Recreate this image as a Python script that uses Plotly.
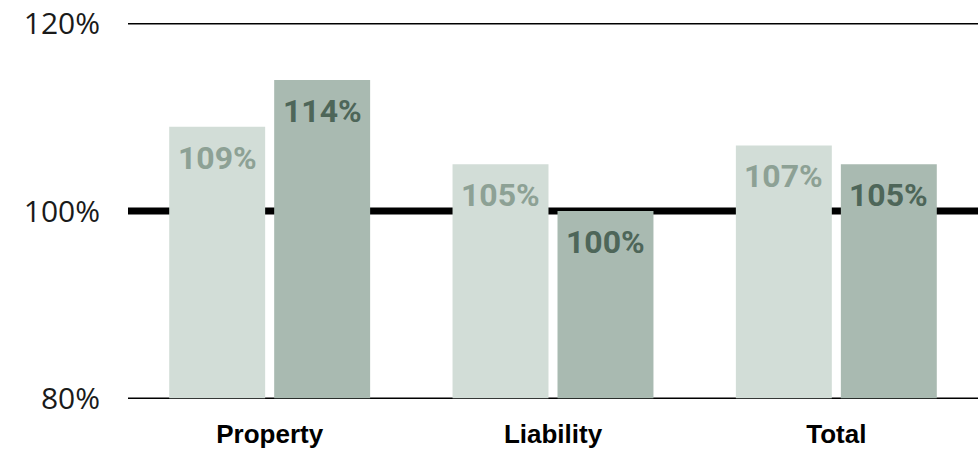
import plotly.graph_objects as go

categories = ["Property", "Liability", "Total"]
series_a = [109, 105, 107]
series_b = [114, 100, 105]
tick_vals = [80, 100, 120]
tick_text = ["80%", "100%", "120%"]
base_value = 80
reference_value = 100

color_a = "#d2ddd7"
color_b = "#a9bab1"
label_a = "#8da195"
label_b = "#4e6659"

fig = go.Figure()
fig.add_trace(go.Bar(
    x=categories, y=[v - base_value for v in series_a], base=base_value,
    marker=dict(color=color_a, line=dict(width=0)), name="A",
    hoverinfo="skip",
))
fig.add_trace(go.Bar(
    x=categories, y=[v - base_value for v in series_b], base=base_value,
    marker=dict(color=color_b, line=dict(width=0)), name="B",
    hoverinfo="skip",
))

# value labels inside the top of each bar
slot_px = 52.5
for vals, col, shift in ((series_a, label_a, -slot_px), (series_b, label_b, slot_px)):
    for c, v in zip(categories, vals):
        fig.add_annotation(
            x=c, y=v, xref="x", yref="y", text=f"{v}%", showarrow=False,
            xshift=shift, yshift=-31, yanchor="middle", xanchor="center",
            font=dict(family="Roboto", size=32, color=col, weight="bold"),
        )

# horizontal reference lines
for tv in tick_vals:
    fig.add_shape(
        type="line", xref="paper", yref="y", x0=0, x1=1, y0=tv, y1=tv,
        line=dict(color="#000000", width=7 if tv == reference_value else 1.6),
        layer="below",
    )

fig.update_layout(
    width=978, height=452,
    margin=dict(l=128, r=0, t=19, b=49),
    paper_bgcolor="white", plot_bgcolor="white",
    barmode="group", bargap=0.259, bargroupgap=0.086,
    showlegend=False,
    xaxis=dict(
        showgrid=False, showline=False, zeroline=False, ticks="",
        automargin=False,
        tickfont=dict(family="Liberation Sans", size=26, color="#000000", weight="bold"),
        ticklabelstandoff=13,
    ),
    yaxis=dict(
        range=[79.5, 120.5], tickvals=tick_vals, ticktext=tick_text,
        showgrid=False, showline=False, zeroline=False, ticks="",
        automargin=False,
        tickfont=dict(family="Open Sans", size=30, color="#1a1a1a"),
        ticklabelstandoff=27,
    ),
)

fig.write_html("out.html")
